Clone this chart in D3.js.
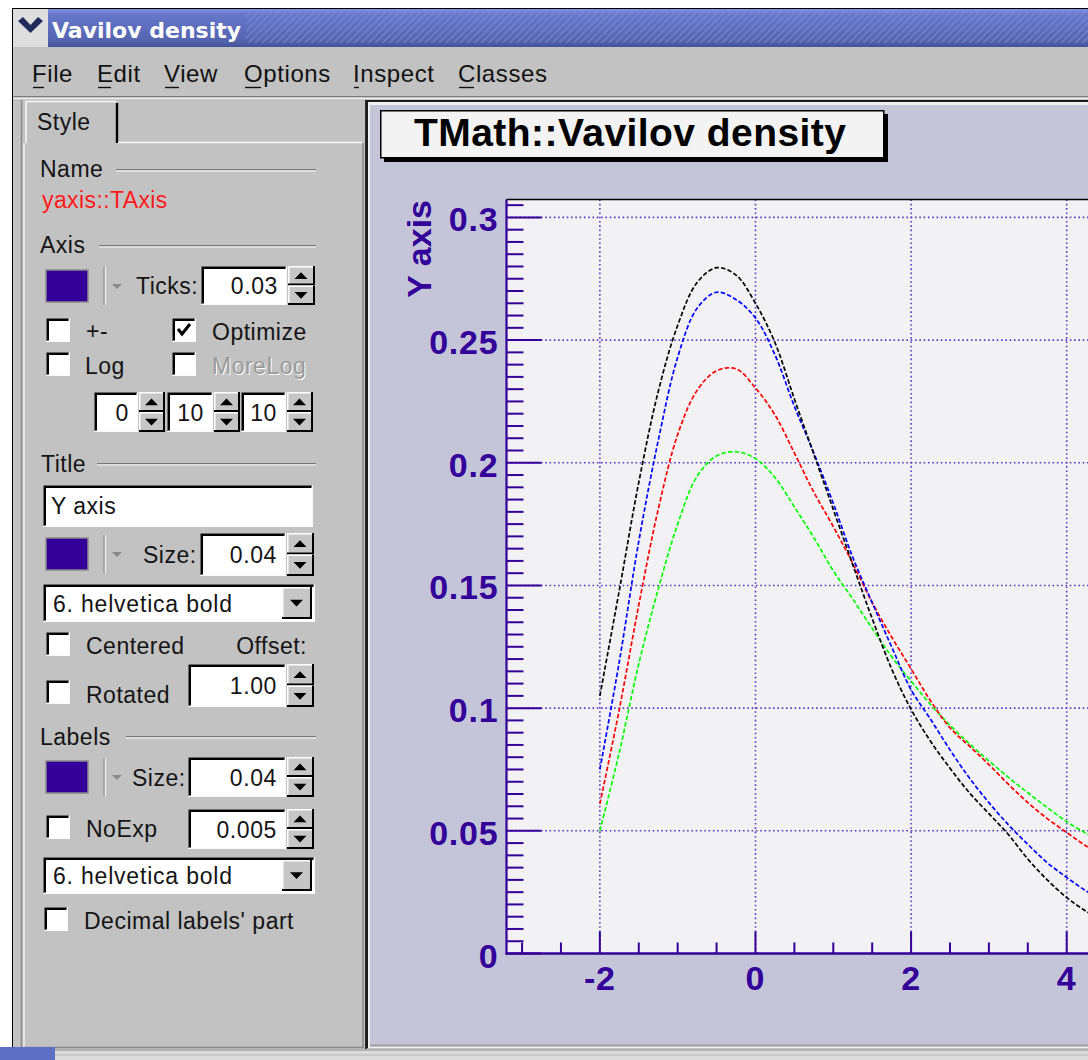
<!DOCTYPE html>
<html>
<head>
<meta charset="utf-8">
<title>Vavilov density</title>
<script src="https://cdn.jsdelivr.net/npm/d3@7"></script>
<style>
  html, body { margin: 0; padding: 0; background: #ffffff; overflow: hidden; }
  svg { display: block; }
  text { font-family: "Liberation Sans", Arial, Helvetica, sans-serif; }
</style>
</head>
<body>
<svg id="win" width="1088" height="1060"></svg>
<script>
// ---- Vavilov density curves (four parameter sets), sampled on a common x grid ----
const xValues = [-2, -1.75, -1.5, -1.25, -1, -0.75, -0.5, -0.25, 0, 0.25, 0.5, 0.75, 1,
                 1.25, 1.5, 1.75, 2, 2.25, 2.5, 2.75, 3, 3.25, 3.5, 3.75, 4, 4.25, 4.5];
const densityBlack = [0.105, 0.148, 0.192, 0.229, 0.256, 0.2735, 0.2795, 0.2765, 0.265, 0.249, 0.226, 0.2035, 0.181,
                      0.1585, 0.1365, 0.116, 0.0995, 0.0865, 0.0755, 0.0655, 0.057, 0.0485, 0.0385, 0.030, 0.0228, 0.0172, 0.013];
const densityBlue  = [0.075, 0.119, 0.168, 0.209, 0.243, 0.263, 0.2695, 0.2665, 0.259, 0.244, 0.223, 0.204, 0.1835,
                      0.1615, 0.143, 0.125, 0.1075, 0.0955, 0.083, 0.0715, 0.0615, 0.0525, 0.0445, 0.037, 0.031, 0.0255, 0.021];
const densityRed   = [0.061, 0.0995, 0.142, 0.181, 0.2115, 0.2295, 0.2375, 0.2383, 0.2305, 0.2195, 0.204, 0.188, 0.174,
                      0.159, 0.143, 0.129, 0.116, 0.103, 0.092, 0.0845, 0.077, 0.069, 0.0615, 0.055, 0.0493, 0.0438, 0.039];
const densityGreen = [0.050, 0.082, 0.118, 0.1485, 0.175, 0.1945, 0.2028, 0.2045, 0.2017, 0.194, 0.182, 0.1695, 0.156,
                      0.1445, 0.1325, 0.121, 0.111, 0.1015, 0.093, 0.0855, 0.0785, 0.0718, 0.0655, 0.0595, 0.0537, 0.049, 0.0445];
const seriesColors = ["#000000", "#0000ff", "#ff0000", "#00ff00"];

const xTickValues = [-2, 0, 2, 4];
const xTickLabels = ["-2", "0", "2", "4"];
const yTickValues = [0, 0.05, 0.1, 0.15, 0.2, 0.25, 0.3];
const yTickLabels = ["0", "0.05", "0.1", "0.15", "0.2", "0.25", "0.3"];

const windowTitle = "Vavilov density";
const plotTitle = "TMath::Vavilov density";
const yAxisTitle = "Y axis";
const menuItems = ["File", "Edit", "View", "Options", "Inspect", "Classes"];

// ---- window chrome ----
const svg = d3.select("#win");
const GUI_GRAY = "#c2c2c2";
const INK = "#330099";

const defs = svg.append("defs");
const tg = defs.append("linearGradient").attr("id", "titleGrad").attr("x1", 0).attr("y1", 0).attr("x2", 0).attr("y2", 1);
[[0, "#8192e2"], [0.14, "#6777ca"], [0.8, "#5565b0"], [1, "#45549a"]].forEach(([o, c]) =>
  tg.append("stop").attr("offset", o).attr("stop-color", c));
const hatch = defs.append("pattern").attr("id", "hatch").attr("width", 5).attr("height", 5)
  .attr("patternUnits", "userSpaceOnUse").attr("patternTransform", "rotate(45)");
hatch.append("rect").attr("width", 1.6).attr("height", 5).attr("fill", "#8494da").attr("opacity", 0.55);

// frame of the whole window
svg.append("rect").attr("x", 12).attr("y", 8).attr("width", 1076).attr("height", 1052).attr("fill", GUI_GRAY);
svg.append("path").attr("d", "M12.5,1060V8.5H1088").attr("fill", "none").attr("stroke", "#000").attr("stroke-width", 1);

// title bar
svg.append("rect").attr("x", 48).attr("y", 9).attr("width", 1040).attr("height", 38).attr("fill", "url(#titleGrad)");
svg.append("rect").attr("x", 246).attr("y", 12).attr("width", 842).attr("height", 31).attr("fill", "url(#hatch)");
svg.append("rect").attr("x", 13).attr("y", 9).attr("width", 35).attr("height", 38).attr("fill", "#dedede");
svg.append("path").attr("d", "M18,21 L23,17 L30.5,25 L38,17 L43,21 L30.5,33 Z").attr("fill", "#1f2b5c");
svg.append("text").attr("x", 52).attr("y", 38).text(windowTitle)
  .style("font-family", "'DejaVu Sans', sans-serif").style("font-weight", "bold")
  .attr("font-size", 22).attr("fill", "#ffffff");

// menu bar
const menuX = [32, 97, 164, 244, 353, 458];
const menu = svg.append("g");
menuItems.forEach((m, i) => {
  menu.append("text").attr("x", menuX[i]).attr("y", 82).attr("font-size", 24)
    .attr("fill", "#111").attr("letter-spacing", 0.6).text(m);
});
// underline accelerators (first letter of each item)
menuItems.forEach((m, i) => {
  const w = { F: 11, E: 13, V: 14, O: 16, I: 5, C: 15 }[m[0]];
  menu.append("line").attr("x1", menuX[i] + 1).attr("x2", menuX[i] + 1 + w)
    .attr("y1", 87.5).attr("y2", 87.5).attr("stroke", "#111").attr("stroke-width", 1.4);
});
svg.append("line").attr("x1", 13).attr("x2", 1088).attr("y1", 96.5).attr("y2", 96.5).attr("stroke", "#7c7c7c");
svg.append("line").attr("x1", 13).attr("x2", 1088).attr("y1", 98.5).attr("y2", 98.5).attr("stroke", "#f4f4f4");

// ---- editor side panel ----
const P = svg.append("g");

function line(g, x1, y1, x2, y2, c, w) {
  g.append("line").attr("x1", x1).attr("y1", y1).attr("x2", x2).attr("y2", y2)
    .attr("stroke", c).attr("stroke-width", w || 1);
}
function label(g, x, y, s, opts = {}) {
  const t = g.append("text").attr("x", x).attr("y", y).attr("font-size", opts.size || 23)
    .attr("fill", opts.fill || "#141414").attr("letter-spacing", opts.ls != null ? opts.ls : 0.5).text(s);
  if (opts.anchor) t.attr("text-anchor", opts.anchor);
  return t;
}
function groove(g, x1, x2, y) {
  line(g, x1, y, x2, y, "#767676", 1.2);
  line(g, x1, y + 1.5, x2, y + 1.5, "#f6f6f6", 1.2);
}
function sunken(g, x, y, w, h, fill) {
  g.append("rect").attr("x", x).attr("y", y).attr("width", w).attr("height", h).attr("fill", fill);
  g.append("path").attr("d", `M${x + 0.5},${y + h}V${y + 0.5}H${x + w}`).attr("fill", "none").attr("stroke", "#6a6a6a");
  g.append("path").attr("d", `M${x + 2},${y + h - 1.5}V${y + 2}H${x + w - 1.5}`).attr("fill", "none").attr("stroke", "#000").attr("stroke-width", 2);
  g.append("path").attr("d", `M${x},${y + h - 0.5}H${x + w - 0.5}V${y}`).attr("fill", "none").attr("stroke", "#fafafa");
}
function raised(g, x, y, w, h) {
  g.append("rect").attr("x", x).attr("y", y).attr("width", w).attr("height", h).attr("fill", "#c6c6c6");
  g.append("path").attr("d", `M${x + 0.75},${y + h}V${y + 0.75}H${x + w}`).attr("fill", "none").attr("stroke", "#fdfdfd").attr("stroke-width", 1.5);
  g.append("path").attr("d", `M${x},${y + h - 1}H${x + w - 1}V${y}`).attr("fill", "none").attr("stroke", "#000").attr("stroke-width", 2);
}
function tri(g, cx, cy, up, s) {
  s = s || 6;
  const d = up
    ? `M${cx - s},${cy + s * 0.5}L${cx + s},${cy + s * 0.5}L${cx},${cy - s * 0.55}Z`
    : `M${cx - s},${cy - s * 0.5}L${cx + s},${cy - s * 0.5}L${cx},${cy + s * 0.55}Z`;
  g.append("path").attr("d", d).attr("fill", "#000");
}
function spinner(g, x, y, w, h) {
  const hh = h / 2;
  raised(g, x, y, w, hh);
  raised(g, x, y + hh, w, hh);
  tri(g, x + w / 2 - 0.5, y + hh / 2, true, 6.5);
  tri(g, x + w / 2 - 0.5, y + hh + hh / 2, false, 6.5);
}
function numEntry(g, x, y, w, h, value, spinW) {
  sunken(g, x, y, w, h, "#ffffff");
  label(g, x + w - 9, y + h / 2 + 8.5, value, { anchor: "end", size: 23, ls: 0.6 });
  spinner(g, x + w + 1, y, spinW || 27, h);
}
function checkbox(g, x, y, checked) {
  sunken(g, x, y, 24, 24, "#ffffff");
  if (checked) {
    g.append("path").attr("d", `M${x + 6},${y + 11}L${x + 10},${y + 16}L${x + 18},${y + 6}`)
      .attr("fill", "none").attr("stroke", "#000").attr("stroke-width", 3);
  }
}
function swatch(g, x, y, color) {
  g.append("rect").attr("x", x).attr("y", y).attr("width", 42).attr("height", 32).attr("fill", color)
    .attr("stroke", "#8a8a8a").attr("stroke-width", 1.5);
  line(g, x + 58, y - 3, x + 58, y + 35, "#8c8c8c", 1.2);
  line(g, x + 59.5, y - 3, x + 59.5, y + 35, "#f4f4f4", 1.2);
  g.append("path").attr("d", `M${x + 66},${y + 14}L${x + 76},${y + 14}L${x + 71},${y + 19}Z`).attr("fill", "#8a8a8a");
}
function combo(g, x, y, w, h, s) {
  sunken(g, x, y, w, h, "#ffffff");
  label(g, x + 10, y + h / 2 + 8.5, s, { size: 23, ls: 0.8 });
  raised(g, x + w - 33, y + 3, 30, h - 6);
  tri(g, x + w - 18.5, y + h / 2, false, 6.5);
}

// panel frame and tab
line(P, 21.5, 100, 21.5, 1049, "#8a8a8a", 1.5);
line(P, 24, 143, 24, 1047, "#f2f2f2", 1.5);
line(P, 363, 143, 363, 1048, "#8a8a8a", 1.5);
line(P, 366, 100, 366, 1050, "#2a2a2a", 2);
line(P, 24, 1047.5, 364, 1047.5, "#8a8a8a", 1.5);
P.append("path").attr("d", "M26,143V101.5H116").attr("fill", "none").attr("stroke", "#f6f6f6").attr("stroke-width", 1.6);
line(P, 117, 103, 117, 143, "#000", 2.4);
line(P, 118, 142.5, 362, 142.5, "#f6f6f6", 1.6);
label(P, 37, 130, "Style", { size: 23 });

// Name
label(P, 40, 177, "Name");
groove(P, 116, 316, 169.5);
label(P, 42, 208, "yaxis::TAxis", { fill: "#ff1a1a", ls: 0.4 });

// Axis
label(P, 40, 253, "Axis");
groove(P, 99, 316, 245.5);
swatch(P, 46, 270, INK);
label(P, 136, 293.5, "Ticks:");
numEntry(P, 201, 266, 86, 39, "0.03");
checkbox(P, 46, 318, false);
label(P, 86, 339, "+-");
checkbox(P, 172, 318, true);
label(P, 212, 340, "Optimize");
checkbox(P, 46, 352, false);
label(P, 85, 374, "Log");
checkbox(P, 172, 352, false);
label(P, 213, 375, "MoreLog", { fill: "#ffffff" });
label(P, 212, 374, "MoreLog", { fill: "#9a9a9a" });
numEntry(P, 94, 392, 44, 40, "0", 26);
numEntry(P, 167, 392, 46, 40, "10", 26);
numEntry(P, 241, 392, 45, 40, "10", 26);

// Title
label(P, 41, 471.5, "Title");
groove(P, 97, 316, 463.5);
sunken(P, 43, 485, 270, 42, "#ffffff");
label(P, 51, 513.5, "Y axis");
swatch(P, 46, 538, INK);
label(P, 143, 562.5, "Size:");
numEntry(P, 200, 533, 86, 43, "0.04");
combo(P, 43, 584, 272, 38, "6. helvetica bold");
checkbox(P, 46, 632, false);
label(P, 86, 654, "Centered");
label(P, 307, 654, "Offset:", { anchor: "end" });
checkbox(P, 46, 680, false);
label(P, 86, 702.5, "Rotated");
numEntry(P, 188, 664, 98, 43, "1.00");

// Labels
label(P, 40, 745, "Labels");
groove(P, 126, 316, 736.5);
swatch(P, 46, 761, INK);
label(P, 132, 785.5, "Size:");
numEntry(P, 188, 757, 98, 40, "0.04");
checkbox(P, 46, 815, false);
label(P, 86, 837, "NoExp");
numEntry(P, 188, 809, 98, 40, "0.005");
combo(P, 43, 857, 272, 37, "6. helvetica bold");
checkbox(P, 44, 907, false);
label(P, 84, 929, "Decimal labels' part");

// bottom strip
svg.append("rect").attr("x", 13).attr("y", 1049).attr("width", 1075).attr("height", 11).attr("fill", "#dcdcdc");
line(svg, 13, 1050, 1088, 1050, "#a4a4a4", 1.5);
line(svg, 13, 1055, 1088, 1055, "#b8b8b8", 1.2);
svg.append("rect").attr("x", 0).attr("y", 1047).attr("width", 55).attr("height", 13).attr("fill", "#5d6fc2");

// ---- canvas pad ----
const PAD = { x: 366, y: 100, w: 722, h: 948 };
svg.append("rect").attr("x", PAD.x).attr("y", PAD.y).attr("width", PAD.w).attr("height", PAD.h).attr("fill", "#1c1c1c");
svg.append("rect").attr("x", PAD.x + 2).attr("y", PAD.y + 2).attr("width", PAD.w).attr("height", PAD.h - 2).attr("fill", "#f0f0f0");
svg.append("rect").attr("x", 370).attr("y", 105).attr("width", 718).attr("height", 940).attr("fill", "#c5c5d9");
line(svg, 370, 1045.5, 1088, 1045.5, "#9e9e9e", 2);

// plot frame geometry
const frame = { left: 506.5, right: 1105.6, top: 199.5, bottom: 953.5 };
const x = d3.scaleLinear().domain([-3.2, 4.5]).range([frame.left, frame.right]);
const y = d3.scaleLinear().domain([0, 0.3073]).range([frame.bottom, frame.top]);

const plot = svg.append("g");
plot.append("rect").attr("x", frame.left).attr("y", frame.top)
  .attr("width", frame.right - frame.left).attr("height", frame.bottom - frame.top).attr("fill", "#f2f2f5");

// grid
const GRID = "#5a3cc2";
const grid = plot.append("g").attr("fill", "none").attr("stroke", GRID).attr("stroke-width", 1.6)
  .attr("stroke-dasharray", "1.6,2.7");
xTickValues.forEach(v => grid.append("line").attr("x1", x(v)).attr("x2", x(v)).attr("y1", frame.top).attr("y2", frame.bottom));
yTickValues.filter(v => v > 0).forEach(v => grid.append("line").attr("x1", frame.left).attr("x2", frame.right).attr("y1", y(v)).attr("y2", y(v)));

// curves
defs.append("clipPath").attr("id", "frameClip").append("rect")
  .attr("x", frame.left).attr("y", frame.top).attr("width", frame.right - frame.left).attr("height", frame.bottom - frame.top);
const curveGen = d3.line().x(d => x(d[0])).y(d => y(d[1])).curve(d3.curveCatmullRom.alpha(0.5));
const curves = plot.append("g").attr("clip-path", "url(#frameClip)");
[densityGreen, densityRed, densityBlue, densityBlack].forEach((vals, i) => {
  const col = [seriesColors[3], seriesColors[2], seriesColors[1], seriesColors[0]][i];
  curves.append("path").datum(xValues.map((xv, j) => [xv, vals[j]]))
    .attr("d", curveGen).attr("fill", "none").attr("stroke", col)
    .attr("stroke-width", 1.7).attr("stroke-dasharray", "4.5,2.2");
});

// frame top edge
line(plot, frame.left, frame.top, frame.right, frame.top, "#000", 1.6);

// y axis with major and minor ticks
const yAxis = plot.append("g").attr("transform", `translate(${frame.left},0)`);
yAxis.append("line").attr("y1", frame.top).attr("y2", frame.bottom + 1).attr("stroke", INK).attr("stroke-width", 2.2);
d3.range(0, 62).map(i => i * 0.005).filter(v => y(v) >= frame.top).forEach((v, i) => {
  const major = i % 10 === 0;
  yAxis.append("line").attr("x1", 0).attr("x2", major ? 35 : 17).attr("y1", y(v)).attr("y2", y(v))
    .attr("stroke", INK).attr("stroke-width", 2);
});
yTickValues.forEach((v, i) => {
  yAxis.append("text").attr("x", -8).attr("y", y(v) + 14).attr("text-anchor", "end")
    .attr("font-size", 34).attr("font-weight", "bold").attr("letter-spacing", 0.8)
    .attr("fill", INK).text(yTickLabels[i]);
});

// x axis with major and minor ticks
const xAxis = plot.append("g").attr("transform", `translate(0,${frame.bottom})`);
xAxis.append("line").attr("x1", frame.left - 1).attr("x2", frame.right).attr("stroke", INK).attr("stroke-width", 2.4);
d3.range(-6, 10).map(i => i * 0.5).filter(v => x(v) > frame.left + 2).forEach(v => {
  const major = Math.abs(v % 2) < 1e-9;
  xAxis.append("line").attr("x1", x(v)).attr("x2", x(v)).attr("y1", 0).attr("y2", major ? -22 : -11)
    .attr("stroke", INK).attr("stroke-width", 2);
});
xTickValues.forEach((v, i) => {
  xAxis.append("text").attr("x", x(v)).attr("y", 36.5).attr("text-anchor", "middle")
    .attr("font-size", 34).attr("font-weight", "bold").attr("letter-spacing", 0.8)
    .attr("fill", INK).text(xTickLabels[i]);
});

// y axis title
plot.append("text").attr("transform", "translate(431,200) rotate(-90)").attr("text-anchor", "end")
  .attr("font-size", 34).attr("font-weight", "bold").attr("fill", INK).text(yAxisTitle);

// title box with shadow
plot.append("rect").attr("x", 384).attr("y", 114).attr("width", 504).attr("height", 48).attr("fill", "#000");
plot.append("rect").attr("x", 380.75).attr("y", 110.75).attr("width", 503).attr("height", 47)
  .attr("fill", "#f3f3f3").attr("stroke", "#000").attr("stroke-width", 1.5);
plot.append("text").attr("x", 414).attr("y", 146).attr("font-size", 39).attr("font-weight", "bold")
  .attr("fill", "#000").attr("textLength", 432).attr("lengthAdjust", "spacing").text(plotTitle);
</script>
</body>
</html>
